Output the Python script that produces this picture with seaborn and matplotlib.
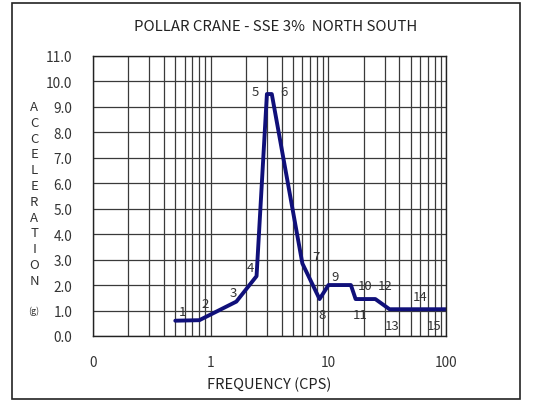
import matplotlib
matplotlib.use("Agg")
import matplotlib.pyplot as plt
import numpy as np
import pandas as pd
import seaborn as sns
from matplotlib.patches import Rectangle
from matplotlib.ticker import FixedLocator, LogLocator, NullFormatter

# response spectrum points (frequency in cps, acceleration in g)
point_ids = [str(i) for i in range(1, 16)]
freq = [0.5, 0.8, 1.65, 2.45, 3.0, 3.3, 6.0, 8.4, 10.0, 15.5, 17.0, 25.0, 33.0, 55.0, 100.0]
accel = [0.6, 0.62, 1.35, 2.35, 9.5, 9.5, 2.85, 1.45, 2.0, 2.0, 1.45, 1.45, 1.05, 1.05, 1.05]

x_ticks = [0.1, 1, 10, 100]
x_tick_labels = ["0", "1", "10", "100"]
y_ticks = list(range(0, 12))

# label offsets (points) from each vertex
label_offsets = [(5, 6.5), (4.5, 12), (-2, 6.5), (-4.5, 6), (-8, 2), (9, 2), (10, 5), (2, -11),
                 (4.5, 6.5), (10, 0), (3.5, -11), (7, 9.5), (2, -12), (3, 9.5), (-8.5, -12)]

sns.set_style("white")
plt.rcParams["font.family"] = ["Noto Sans CJK JP", "DejaVu Sans"]

df = pd.DataFrame({"freq": freq, "accel": accel})

fig = plt.figure(figsize=(5.36, 4.06), dpi=100)
fig.patches.append(Rectangle((0.022, 0.015), 0.949, 0.975, transform=fig.transFigure,
                             fill=False, edgecolor="#222222", linewidth=1.2))
ax = fig.add_axes([0.1735, 0.170, 0.659, 0.690])

sns.lineplot(data=df, x="freq", y="accel", ax=ax, color="#10107a", linewidth=2.8,
             sort=False, estimator=None)

ax.set_xscale("log")
ax.set_xlim(0.1, 100)
ax.set_ylim(0, 11)
ax.xaxis.set_major_locator(FixedLocator(x_ticks))
ax.set_xticklabels(x_tick_labels)
ax.xaxis.set_minor_locator(LogLocator(base=10, subs=np.arange(2, 10)))
ax.xaxis.set_minor_formatter(NullFormatter())
ax.set_yticks(y_ticks)
ax.set_yticklabels([f"{v:.1f}" for v in y_ticks])
ax.grid(True, which="both", axis="x", color="#3a3a3a", linewidth=0.9)
ax.grid(True, which="major", axis="y", color="#3a3a3a", linewidth=0.9)
ax.tick_params(axis="both", which="both", length=0, labelsize=9.8, colors="#333333")
ax.tick_params(axis="x", pad=14)
ax.tick_params(axis="y", pad=15)
for s in ax.spines.values():
    s.set_color("#222222")
    s.set_linewidth(1.0)

for pid, x, y, off in zip(point_ids, freq, accel, label_offsets):
    ax.annotate(pid, (x, y), xytext=off, textcoords="offset points", fontsize=9.5,
                color="#333333", ha="center", va="center")

ax.set_xlabel("FREQUENCY (CPS)", fontsize=10.5, color="#222222", labelpad=5)
ax.set_ylabel("")
fig.text(0.515, 0.933, "POLLAR CRANE - SSE 3%  NORTH SOUTH", ha="center", va="center",
         fontsize=10.8, color="#222222")
fig.text(0.064, 0.521, "\n".join("ACCELERATION"), ha="center", va="center",
         fontsize=9.5, color="#333333", linespacing=1.28)
fig.text(0.062, 0.232, "(g)", ha="center", va="center", fontsize=6.5, color="#333333")

fig.savefig("out.png", dpi=100)
